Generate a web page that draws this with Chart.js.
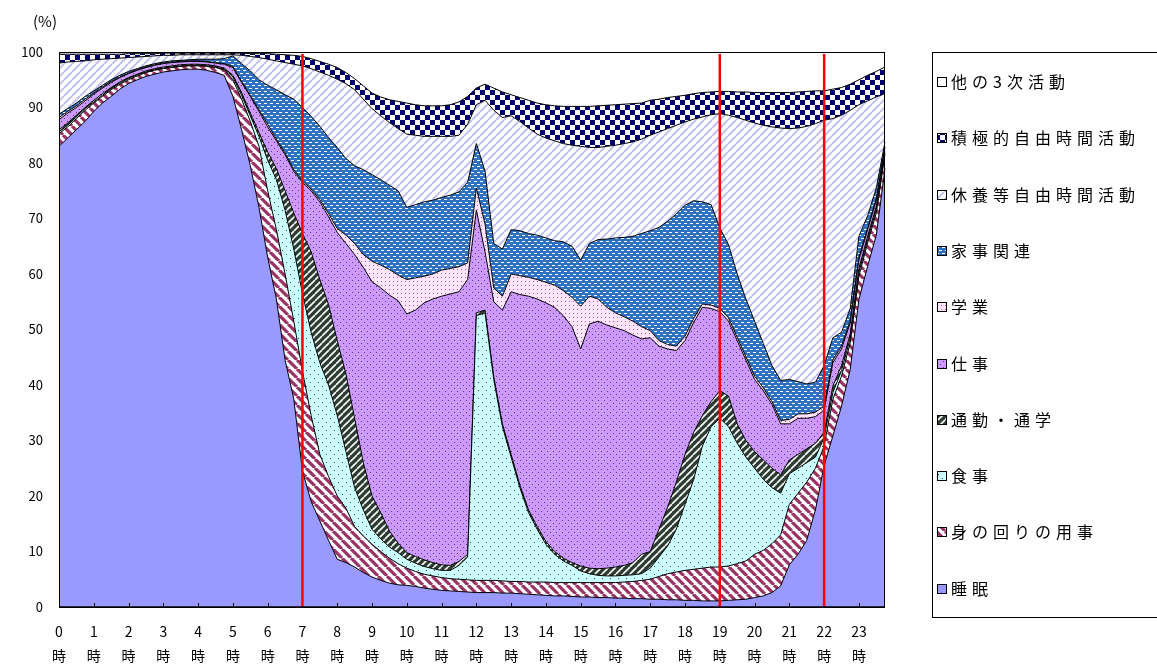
<!DOCTYPE html>
<html lang="ja">
<head>
<meta charset="utf-8">
<title>時刻別行動者率</title>
<script src="https://cdn.jsdelivr.net/npm/chart.js@4.4.1/dist/chart.umd.min.js"></script>
<style>
  html, body { margin: 0; padding: 0; background: #fff; }
  #wrap { width: 1157px; height: 665px; position: relative; }
</style>
</head>
<body>
<div id="wrap"><canvas id="activityChart"></canvas></div>
<script>
    // hour tick labels and the three marked times (7時, 19時, 22時)
    const hourLabels = ["0","1","2","3","4","5","6","7","8","9","10","11","12","13","14","15","16","17","18","19","20","21","22","23"];
    const markerHours = [7, 19, 22];

    // series names, bottom of the stack first
    const seriesNames = ["睡眠", "身の回りの用事", "食事", "通勤・通学", "仕事", "学業", "家事関連", "休養等自由時間活動", "積極的自由時間活動", "他の3次活動"];

    // shares in % for each 15-minute slot from 0:00 to 23:45
    const sleep = [
      83, 84.5, 86, 87.5, 89.3, 90.8, 92, 93.3,
      94.3, 95, 95.6, 96, 96.4, 96.6, 96.8, 96.9,
      96.9, 96.7, 96.3, 95.8, 92, 86, 79.5, 72,
      63, 55.5, 44.5, 37.5, 24.5, 19, 15.5, 12,
      8.6, 8, 7.2, 6.2, 5.4, 4.8, 4.3, 4,
      3.9, 3.7, 3.4, 3.2, 3, 2.9, 2.8, 2.7,
      2.6, 2.6, 2.6, 2.5, 2.5, 2.4, 2.3, 2.2,
      2.1, 2, 2, 1.9, 1.8, 1.8, 1.7, 1.7,
      1.6, 1.6, 1.5, 1.5, 1.4, 1.4, 1.3, 1.3,
      1.2, 1.2, 1.1, 1.1, 1.1, 1.2, 1.3, 1.4,
      1.7, 2, 2.6, 3.8, 7.6, 9.5, 12, 17.5,
      25.5, 30.8, 36.2, 42.8, 55.4, 61.4, 67, 79
    ];
    const personalCare = [
      2.3, 2, 2, 2, 1.5, 1.2, 1.2, 0.9,
      0.7, 0.7, 0.7, 0.7, 0.6, 0.6, 0.6, 0.6,
      0.6, 0.7, 0.9, 1, 3, 5.5, 8, 11,
      12, 12.5, 15.5, 14, 18, 15.5, 12, 11.5,
      11.4, 9.8, 7.3, 6.6, 5.9, 5.2, 4.5, 3.8,
      3.1, 2.7, 2.5, 2.4, 2.3, 2.2, 2.2, 2.2,
      2.2, 2.2, 2.2, 2.2, 2.1, 2.2, 2.2, 2.3,
      2.4, 2.4, 2.4, 2.5, 2.6, 2.6, 2.7, 2.7,
      2.8, 2.9, 3.1, 3.3, 3.6, 4.1, 4.7, 5,
      5.4, 5.6, 5.9, 6.1, 6.1, 6.2, 6.5, 6.9,
      7.8, 8.2, 8.8, 9.2, 10.9, 11, 10.5, 7.5,
      3.5, 6.6, 5.4, 4.8, 4.2, 4.2, 4, 2.5
    ];
    const meals = [
      0.3, 0.3, 0.3, 0.3, 0.2, 0.2, 0.2, 0.2,
      0.2, 0.2, 0.1, 0.1, 0.1, 0.1, 0.1, 0.1,
      0.1, 0.1, 0.1, 0.1, 0.5, 0.7, 1, 1.8,
      5.5, 9, 11.5, 13, 14, 15, 16.5, 16.5,
      14.5, 10.2, 7, 4.7, 2.7, 2.3, 2, 2,
      1.6, 1.5, 1.4, 1.3, 1.3, 1.5, 2.5, 4.1,
      47.7, 48.2, 36.2, 27.8, 22.4, 16.9, 12.5, 9.5,
      6.8, 5.1, 3.9, 3.1, 2.1, 1.6, 1.3, 1.2,
      1.2, 1.2, 1.2, 1.2, 2, 3.5, 5, 7.7,
      11.9, 16.2, 22, 25.3, 26.8, 25.1, 21.7, 18.7,
      15.5, 12.8, 10.1, 7.5, 5.5, 4.5, 3.5, 2,
      1.5, 1.2, 1, 0.8, 0.7, 0.6, 0.6, 0.3
    ];
    const commute = [
      0.4, 0.4, 0.3, 0.2, 0.3, 0.3, 0.2, 0.2,
      0.2, 0.1, 0.2, 0.2, 0.2, 0.2, 0.2, 0.2,
      0.2, 0.2, 0.2, 0.2, 0.3, 0.5, 0.5, 0.7,
      1.5, 2, 3.5, 6.5, 10.8, 14.5, 15, 14.5,
      13.5, 14, 12.5, 8.5, 6, 4.7, 2.9, 1.7,
      1.2, 1.2, 1.2, 1.1, 1, 0.9, 0.7, 0.5,
      0.5, 0.5, 0.5, 0.5, 0.5, 0.5, 0.5, 0.5,
      0.5, 0.5, 0.5, 0.5, 0.9, 1, 1.2, 1.4,
      1.6, 1.8, 2.2, 3.5, 3, 5, 7, 8.5,
      9, 8.5, 5.5, 4.5, 5, 5.5, 3.5, 3,
      3, 3.5, 3.5, 3.3, 2.5, 2.5, 2.5, 2.5,
      1, 1.2, 0.9, 0.8, 0.7, 0.6, 0.6, 0.3
    ];
    const work = [
      1.8, 1.8, 1.4, 1.2, 1.1, 1, 0.9, 0.8,
      0.7, 0.7, 0.6, 0.6, 0.6, 0.6, 0.5, 0.5,
      0.5, 0.5, 0.5, 0.7, 1.4, 1.8, 3, 3.8,
      4.5, 5, 6.5, 7.5, 9.2, 11, 14, 15.8,
      19.5, 23.5, 29.5, 35.2, 38.6, 40.5, 42.5, 43.7,
      43, 44.4, 46.3, 47.5, 48.4, 48.9, 48.6, 49.5,
      18.5, 10.5, 13.5, 20.5, 29.3, 34.3, 38.5, 41,
      43, 44, 43.7, 42.5, 39.1, 44, 44.6, 43.8,
      43.1, 42.3, 41, 38.8, 38.5, 33, 28.5, 23.7,
      20.5, 19.8, 19.5, 16.8, 14.2, 13.5, 15, 14.5,
      13, 12.5, 11.5, 9.2, 6.5, 6.5, 5.5, 4.8,
      4, 4.2, 3, 2, 1.6, 1.2, 1.1, 0.7
    ];
    const study = [
      0.4, 0.3, 0.3, 0.3, 0.2, 0.2, 0.2, 0.1,
      0.1, 0.1, 0.1, 0.1, 0.1, 0.1, 0.1, 0.1,
      0.1, 0.1, 0.1, 0.1, 0.2, 0.2, 0.2, 0.3,
      0.5, 0.3, 0.3, 0.3, 0.3, 0.3, 0.4, 0.6,
      0.7, 1.5, 2, 2.3, 3.7, 4.1, 4.6, 4.6,
      6.2, 5.8, 4.8, 4.5, 4.7, 4.6, 4.5, 3,
      4, 5, 2.5, 2.5, 3.2, 3.4, 3.4, 3.5,
      3.7, 4, 4.5, 5.3, 7.7, 5, 4, 3.2,
      2.7, 2.5, 2.5, 2.2, 1.3, 1, 0.8, 0.8,
      0.8, 0.7, 0.6, 0.6, 0.6, 0.6, 0.6, 0.6,
      0.6, 0.5, 0.5, 0.6, 0.8, 0.8, 0.8, 0.8,
      0.7, 0.5, 0.5, 0.4, 0.4, 0.3, 0.3, 0.2
    ];
    const housework = [
      0.6, 0.5, 0.5, 0.5, 0.4, 0.3, 0.3, 0.3,
      0.3, 0.2, 0.2, 0.2, 0.2, 0.2, 0.2, 0.2,
      0.3, 0.4, 0.6, 0.9, 1.9, 3.2, 4.4, 5.4,
      7, 8.9, 10.5, 12.7, 13.2, 13.1, 13.2, 13.7,
      14.6, 13.8, 14, 15.3, 15.6, 15.4, 15.2, 15.2,
      13, 13.2, 13.4, 13.3, 13.1, 13.2, 13.5, 14.5,
      8, 9.5, 8, 8.5, 8, 8.1, 7.9, 8,
      8, 8, 8.8, 9.2, 8.3, 9.5, 10.7, 12.3,
      13.5, 14.3, 15.3, 16.8, 18, 20.4, 22.2, 23.8,
      23.6, 21.2, 18.4, 18.1, 14.5, 13.2, 11.4, 10.4,
      9.9, 8, 6.5, 7.2, 7.2, 5.8, 5.4, 5.4,
      7.3, 4, 2.5, 2.2, 3.8, 2.2, 1.9, 0.8
    ];
    const restLeisure = [
      9.2, 8.4, 7.5, 6.4, 5.6, 4.7, 3.8, 3.1,
      2.5, 2.1, 1.7, 1.4, 1.2, 1, 1, 0.9,
      0.8, 0.8, 0.8, 0.7, 0.2, 1.5, 2.6, 4,
      4.7, 5.2, 5.8, 6.3, 7.5, 8.6, 9.8, 11.2,
      12.3, 13.5, 13.7, 12.7, 11.9, 11.5, 11.3, 11.2,
      13.2, 12.5, 11.8, 11.5, 11, 10.6, 10.2, 10.5,
      7, 12.8, 24, 23.7, 20.5, 19.7, 19, 18.2,
      18, 18, 17.7, 18.2, 20.5, 17.3, 16.6, 16.7,
      16.7, 16.9, 17, 17, 17.2, 17.2, 16.7, 16,
      15, 14.7, 15.3, 16.2, 20.6, 23.3, 28.2, 32.2,
      35.7, 39.3, 43, 45.5, 45.2, 45.7, 46.4, 46.6,
      44.2, 39.5, 39.1, 35.7, 23.7, 20.7, 16.4, 8.7
    ];
    const activeLeisure = [
      1.6, 1.4, 1.3, 1.2, 1, 0.9, 0.8, 0.7,
      0.7, 0.6, 0.5, 0.4, 0.4, 0.4, 0.3, 0.3,
      0.3, 0.3, 0.3, 0.3, 0.3, 0.4, 0.5, 0.7,
      1, 1.2, 1.4, 1.6, 1.7, 1.8, 1.9, 2,
      2.1, 2, 2, 2.4, 2.8, 3.4, 4.1, 4.9,
      5.6, 5.5, 5.5, 5.5, 5.5, 5.7, 6, 5,
      3, 2.9, 4, 4.6, 3.8, 4.3, 5, 5.6,
      6, 6.3, 6.7, 7, 7.2, 7.4, 7.5, 7.4,
      7.3, 7.1, 6.9, 6.5, 6.3, 5.9, 5.6, 5.2,
      4.8, 4.6, 4.4, 4.1, 4, 4.3, 4.6, 5.1,
      5.5, 5.9, 6.2, 6.4, 6.5, 6.5, 6.3, 5.9,
      5.3, 5.3, 5, 4.7, 4.5, 4.6, 4.6, 4.8
    ];
    const otherTertiary = [
      0.4, 0.4, 0.4, 0.4, 0.4, 0.4, 0.4, 0.4,
      0.3, 0.3, 0.3, 0.3, 0.2, 0.2, 0.2, 0.2,
      0.2, 0.2, 0.2, 0.2, 0.2, 0.2, 0.3, 0.3,
      0.3, 0.4, 0.5, 0.6, 0.8, 1.2, 1.7, 2.2,
      2.8, 3.7, 4.8, 6.1, 7.4, 8.1, 8.6, 8.9,
      9.2, 9.5, 9.7, 9.7, 9.7, 9.5, 9, 8,
      6.5, 5.8, 6.5, 7.2, 7.7, 8.2, 8.7, 9.2,
      9.5, 9.7, 9.8, 9.8, 9.8, 9.8, 9.7, 9.6,
      9.5, 9.4, 9.3, 9.2, 8.7, 8.5, 8.2, 8,
      7.8, 7.5, 7.3, 7.2, 7.1, 7.1, 7.2, 7.2,
      7.3, 7.3, 7.3, 7.3, 7.3, 7.2, 7.1, 7,
      7, 6.7, 6.4, 5.8, 5, 4.2, 3.5, 2.7
    ];

    // 15-minute slot labels
    const slotLabels = [];
    hourLabels.forEach((h) => {
      ["00", "15", "30", "45"].forEach((m) => slotLabels.push(h + ":" + m));
    });

    // hatch / dot fills like the original print patterns
    function makePattern(size, bg, draw) {
      const c = document.createElement("canvas");
      c.width = size;
      c.height = size;
      const g = c.getContext("2d");
      g.fillStyle = bg;
      g.fillRect(0, 0, size, size);
      if (draw) draw(g, size);
      return g.createPattern(c, "repeat");
    }
    function diag(g, s, color, width, up) {
      g.strokeStyle = color;
      g.lineWidth = width;
      g.beginPath();
      for (let k = -1; k <= 1; k++) {
        if (up) { g.moveTo(k * s, s); g.lineTo(k * s + s, 0); }
        else { g.moveTo(k * s, 0); g.lineTo(k * s + s, s); }
      }
      g.stroke();
    }

    const fills = [
      "#9999ff",
      makePattern(9, "#ffffff", (g, s) => diag(g, s, "#993366", 3.2, false)),
      makePattern(8, "#ccffff", (g) => { g.fillStyle = "#4a4a4a"; g.fillRect(2, 2, 1, 1); g.fillRect(6, 6, 1, 1); }),
      makePattern(7, "#2e3d34", (g, s) => diag(g, s, "#ffffff", 1.6, true)),
      makePattern(6, "#cc99ff", (g) => { g.fillStyle = "#5a3a7a"; g.fillRect(1, 1, 1, 1); g.fillRect(4, 4, 1, 1); }),
      makePattern(4, "#ffe4fb", (g) => { g.fillStyle = "#a0609a"; g.fillRect(1, 1, 1, 1); }),
      makePattern(6, "#2f72c2", (g) => { g.fillStyle = "#ffffff"; g.fillRect(0, 1, 3, 1); g.fillRect(3, 4, 3, 1); }),
      makePattern(8, "#ffffff", (g, s) => diag(g, s, "#c2c2f0", 2, true)),
      makePattern(10, "#ffffff", (g) => { g.fillStyle = "#000070"; g.fillRect(0, 0, 5, 5); g.fillRect(5, 5, 5, 5); }),
      "#ffffff"
    ];

    const seriesData = [sleep, personalCare, meals, commute, work, study, housework, restLeisure, activeLeisure, otherTertiary];

    const datasets = seriesData.map((values, i) => ({
      label: seriesNames[i],
      data: values,
      backgroundColor: fills[i],
      borderColor: "#000",
      borderWidth: 1,
      pointRadius: 0,
      tension: 0,
      fill: i === 0 ? "origin" : "-1",
    }));

    const FONT = "'Noto Sans CJK JP', sans-serif";
    Chart.defaults.font.family = FONT;
    Chart.defaults.color = "#000";

    // red lines, hour ticks, frame, legend box and unit label
    const overlay = {
      id: "overlay",
      afterDatasetsDraw(chart) {
        const { ctx, chartArea: a, scales } = chart;
        const x = scales.x;
        ctx.save();
        ctx.strokeStyle = "#000";
        ctx.lineWidth = 1;
        for (let h = 1; h < 24; h++) {
          const px = Math.round(x.getPixelForValue(h * 4)) + 0.5;
          ctx.beginPath();
          ctx.moveTo(px, a.bottom);
          ctx.lineTo(px, a.bottom - 4);
          ctx.stroke();
        }
        ctx.strokeStyle = "#ff0000";
        ctx.lineWidth = 2.5;
        markerHours.forEach((h) => {
          const px = x.getPixelForValue(h * 4);
          ctx.beginPath();
          ctx.moveTo(px, a.top + 2);
          ctx.lineTo(px, a.bottom);
          ctx.stroke();
        });
        ctx.strokeStyle = "#000";
        ctx.lineWidth = 1;
        ctx.strokeRect(a.left + 0.5, a.top + 0.5, a.right - a.left - 1, a.bottom - a.top);
        ctx.lineWidth = 1.5;
        ctx.beginPath();
        ctx.moveTo(a.left, a.bottom);
        ctx.lineTo(a.right, a.bottom);
        ctx.stroke();
        ctx.restore();
      },
      afterDraw(chart) {
        const ctx = chart.ctx;
        ctx.save();
        ctx.fillStyle = "#000";
        ctx.font = "15px " + FONT;
        ctx.textBaseline = "middle";
        ctx.fillText("(%)", 33, 21);

        ctx.strokeStyle = "#000";
        ctx.lineWidth = 1;
        ctx.strokeRect(932.5, 52.5, 300, 565);
        ctx.font = "16px " + FONT;
        if ("letterSpacing" in ctx) ctx.letterSpacing = "5px";
        for (let i = 0; i < seriesNames.length; i++) {
          const d = seriesNames.length - 1 - i;
          const y = Math.round(82 + 56.3 * i);
          ctx.fillStyle = fills[d];
          ctx.fillRect(937, y - 5, 10, 10);
          ctx.strokeRect(937.5, y - 4.5, 9, 9);
          ctx.fillStyle = "#000";
          ctx.fillText(seriesNames[d], 951, y);
        }
        ctx.restore();
      },
    };

    const activityCtx = document.getElementById("activityChart").getContext("2d");
    const activityChart = new Chart(activityCtx, {
      type: "line",
      data: { labels: slotLabels, datasets: datasets },
      options: {
        responsive: true,
        maintainAspectRatio: false,
        animation: false,
        layout: { padding: { top: 52, right: 272, left: 0, bottom: 0 } },
        scales: {
          x: {
            offset: false,
            grid: { display: false, drawTicks: false },
            border: { display: false },
            afterFit: (scale) => { scale.height = 58; },
            ticks: {
              autoSkip: false,
              maxRotation: 0,
              minRotation: 0,
              padding: 13,
              color: "#000",
              font: { size: 14, lineHeight: 1.7 },
              callback: function (value, index) {
                return index % 4 === 0 ? [hourLabels[index / 4], "時"] : "";
              },
            },
          },
          y: {
            stacked: true,
            min: 0,
            max: 100,
            grid: { display: false, drawTicks: false },
            border: { display: false },
            afterFit: (scale) => { scale.width = 59; },
            ticks: {
              stepSize: 10,
              padding: 16,
              color: "#000",
              font: { size: 13 },
            },
          },
        },
        plugins: {
          legend: { display: false },
          tooltip: { enabled: false },
        },
      },
      plugins: [overlay],
    });
</script>
</body>
</html>
